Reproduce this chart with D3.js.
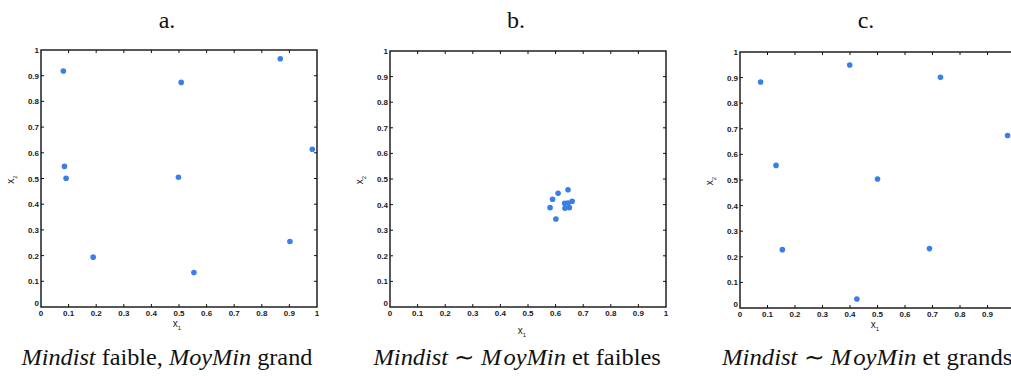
<!DOCTYPE html>
<html>
<head>
<meta charset="utf-8">
<script src="https://cdn.jsdelivr.net/npm/d3@7/dist/d3.min.js"></script>
<style>
  html, body { margin: 0; padding: 0; background: #fff; overflow: hidden; }
  svg { display: block; }
</style>
</head>
<body>
<svg id="fig" width="1011" height="378"></svg>
<script>
// Point sets (x1, x2) for the three configurations
const aX = [0.081, 0.508, 0.867, 0.983, 0.085, 0.091, 0.498, 0.189, 0.554, 0.902];
const aY = [0.918, 0.874, 0.966, 0.614, 0.547, 0.501, 0.505, 0.194, 0.134, 0.255];

const bX = [0.645, 0.609, 0.589, 0.580, 0.601, 0.660, 0.633, 0.650, 0.634, 0.645];
const bY = [0.458, 0.444, 0.421, 0.388, 0.344, 0.413, 0.405, 0.388, 0.386, 0.406];

const cX = [0.075, 0.399, 0.729, 0.973, 0.131, 0.500, 0.154, 0.689, 0.425];
const cY = [0.883, 0.949, 0.901, 0.674, 0.557, 0.504, 0.228, 0.232, 0.035];

const tickValues = [0, 0.1, 0.2, 0.3, 0.4, 0.5, 0.6, 0.7, 0.8, 0.9, 1];
const tickLabels = ["0", "0.1", "0.2", "0.3", "0.4", "0.5", "0.6", "0.7", "0.8", "0.9", "1"];

const titles = ["a.", "b.", "c."];

// Caption pieces: [text, italic?, extra gap]
const captions = [
  [["Mindist", true], [" faible, ", false], ["MoyMin", true], [" grand", false]],
  [["Mindist", true], [" \u223C ", false], ["M", true], ["oyMin", true, 2], [" et faibles", false]],
  [["Mindist", true], [" \u223C ", false], ["M", true], ["oyMin", true, 2], [" et grands", false]]
];

// Panel frames
const panels = [
  { left: 41,  top: 50, width: 276, height: 257, xs: aX, ys: aY, cx: 167, capW: 291, xLabX: 177, xLabY: 327 },
  { left: 390, top: 51, width: 276, height: 256, xs: bX, ys: bY, cx: 516, capW: 285, xLabX: 522, xLabY: 334 },
  { left: 740, top: 52, width: 275, height: 256, xs: cX, ys: cY, cx: 866, capW: 288, xLabX: 875, xLabY: 328 }
];

const SANS = '"Liberation Sans", Arial, Helvetica, sans-serif';
const SERIF = '"Liberation Serif", "Times New Roman", Times, serif';

const svg = d3.select("#fig");
const W = +svg.attr("width");
const dotColor = "#3a7fe8";

panels.forEach((p, i) => {
  const x = d3.scaleLinear().domain([0, 1]).range([p.left, p.left + p.width]);
  const y = d3.scaleLinear().domain([0, 1]).range([p.top + p.height, p.top]);
  const g = svg.append("g");

  // Inward ticks on all four sides
  const tickLen = 3;
  const inner = tickValues.slice(1, -1);
  const tick = (cls, x1, x2, y1, y2) => g.selectAll("." + cls).data(inner).join("line")
    .attr("class", cls)
    .attr("x1", x1).attr("x2", x2).attr("y1", y1).attr("y2", y2)
    .attr("stroke", "#111").attr("stroke-width", 1);
  tick("tb", d => x(d), d => x(d), y(0), y(0) - tickLen);
  tick("tt", d => x(d), d => x(d), y(1), y(1) + tickLen);
  tick("tl", x(0), x(0) + tickLen, d => y(d), d => y(d));
  tick("tr", x(1), x(1) - tickLen, d => y(d), d => y(d));

  // Frame
  g.append("rect")
    .attr("x", x(0)).attr("y", y(1))
    .attr("width", x(1) - x(0)).attr("height", y(0) - y(1))
    .attr("fill", "none").attr("stroke", "#111").attr("stroke-width", 1.4);

  // Tick labels (only those that fall on the canvas)
  const pairs = tickValues.map((v, k) => [v, tickLabels[k]]);
  const xTicks = pairs.filter(d => x(d[0]) < W - 4);
  g.selectAll(".xl").data(xTicks).join("text")
    .attr("class", "xl")
    .style("font-family", SANS).style("font-size", "8px").style("font-weight", "bold")
    .attr("fill", "#1a1a1a")
    .attr("x", d => x(d[0])).attr("y", y(0) + 9)
    .attr("text-anchor", "middle")
    .text(d => d[1]);
  g.selectAll(".yl").data(pairs).join("text")
    .attr("class", "yl")
    .style("font-family", SANS).style("font-size", "8px").style("font-weight", "bold")
    .attr("fill", "#1a1a1a")
    .attr("x", x(0) - 2)
    .attr("y", d => d[0] === 0 ? y(d[0]) - 1 : y(d[0]) + 3)
    .attr("text-anchor", "end")
    .text(d => d[1]);

  // Axis names
  const xl = g.append("text")
    .style("font-family", SANS).style("font-size", "10px").attr("fill", "#1a1a1a")
    .attr("x", p.xLabX).attr("y", p.xLabY)
    .attr("text-anchor", "middle");
  xl.append("tspan").text("x");
  xl.append("tspan").attr("dy", 3).style("font-size", "6px").text("1");

  const yl = g.append("text")
    .style("font-family", SANS).style("font-size", "10px").attr("fill", "#1a1a1a")
    .attr("transform", `translate(${x(0) - 27},${y(0.5) + 1}) rotate(-90)`)
    .attr("text-anchor", "middle");
  yl.append("tspan").text("x");
  yl.append("tspan").attr("dy", 3).style("font-size", "6px").text("2");

  // Points
  g.selectAll("circle").data(p.xs.map((v, k) => [v, p.ys[k]])).join("circle")
    .attr("cx", d => x(d[0])).attr("cy", d => y(d[1]))
    .attr("r", 2.8).attr("fill", dotColor);

  // Title
  svg.append("text")
    .style("font-family", SERIF).style("font-size", "24px").attr("fill", "#111")
    .attr("x", p.cx).attr("y", 28).attr("text-anchor", "middle")
    .text(titles[i]);

  // Caption, stretched to the available width
  const cap = svg.append("text")
    .style("font-family", SERIF).style("font-size", "23px").attr("fill", "#111")
    .attr("x", 0).attr("y", 0);
  captions[i].forEach(part => {
    const t = cap.append("tspan").text(part[0]);
    if (part[1]) t.style("font-style", "italic");
    if (part[2]) t.attr("dx", part[2]);
  });
  const w = cap.node().getComputedTextLength();
  const sx = p.capW / w;
  cap.attr("transform", `translate(${p.cx - p.capW / 2},365) scale(${sx},1)`);
});
</script>
</body>
</html>
